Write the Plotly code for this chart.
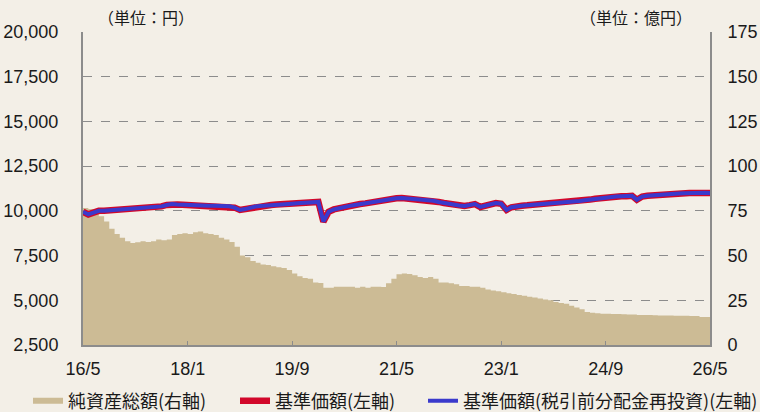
import pandas as pd
import plotly.graph_objects as go

# Monthly dates 2016/5 .. 2026/5
dates = pd.date_range("2016-05-01", periods=121, freq="MS")

# Net assets (億円, right axis)
net_assets = [
    76.6, 76, 74, 72, 69, 65, 62, 60, 58, 57,
    57.5, 58, 57.6, 58, 59, 58.5, 59, 61.5, 62, 62.5,
    62, 63, 63.5, 62.5, 62, 61.5, 60, 59, 57.6, 55,
    50, 49, 47, 46, 45, 44.7, 44, 43.5, 43, 42,
    40, 38.5, 37.5, 37, 35, 34.7, 32, 32, 32.5, 32.5,
    32.5, 32.5, 32, 32.5, 32, 32.5, 32.5, 32.4, 34.5, 37,
    39.5, 40, 39.7, 39, 38, 37.5, 38, 37, 35, 35,
    34.5, 34, 33, 33, 32.5, 32.5, 32, 31, 30.5, 30,
    29.5, 29, 28.5, 28, 27.5, 27, 26.5, 26, 25.5, 25,
    24, 23.5, 23, 22, 21, 20, 18.5, 18, 17.8, 17.5,
    17.5, 17.3, 17.3, 17.2, 17, 17, 16.8, 16.8, 16.8, 16.7,
    16.5, 16.5, 16.5, 16.4, 16.3, 16.3, 16.2, 16.2, 15.6, 15.6,
    15.6,
]

# NAV (円, left axis)
nav = [
    9950, 9800, 9900, 10000, 10000, 10020, 10050, 10060, 10080, 10100,
    10120, 10130, 10150, 10170, 10200, 10250, 10330, 10380, 10360, 10340,
    10330, 10320, 10300, 10300, 10290, 10280, 10270, 10270, 10260, 10180,
    10050, 10100, 10200, 10250, 10270, 10300, 10330, 10350, 10370, 10380,
    10400, 10420, 10430, 10440, 10480, 10500, 9400, 9950, 10080, 10160,
    10220, 10280, 10330, 10380, 10420, 10480, 10530, 10560, 10620, 10680,
    10700, 10720, 10700, 10680, 10660, 10640, 10600, 10560, 10500, 10440,
    10400, 10330, 10300, 10270, 10320, 10380, 10220, 10300, 10380, 10440,
    10400, 10050, 10200, 10270, 10290, 10310, 10330, 10350, 10370, 10380,
    10410, 10440, 10470, 10500, 10530, 10550, 10590, 10630, 10680, 10720,
    10760, 10780, 10800, 10810, 10820, 10840, 10620, 10800, 10840, 10870,
    10890, 10910, 10930, 10950, 10970, 10980, 11000, 11000, 10990, 11010,
    11000,
]

# NAV with dividends reinvested (円, left axis)
nav_reinvested = list(nav)

tick_dates = ["2016-05-01", "2018-01-01", "2019-09-01", "2021-05-01",
              "2023-01-01", "2024-09-01", "2026-05-01"]
tick_labels = ["16/5", "18/1", "19/9", "21/5", "23/1", "24/9", "26/5"]

BG = "#F3EFE7"
AREA = "#CCBB95"
RED = "#D2072A"
BLUE = "#3A3ACC"
AXIS = "#8C8C8C"
TXT = "#1A1A1A"

W, H = 760, 412
L, R, T, B = 83, 50, 32, 67
pw = W - L - R
ph = H - T - B

fig = go.Figure()
# area on primary y (right side, 億円) so it is drawn beneath the price lines
fig.add_trace(go.Scatter(
    x=dates, y=net_assets, name="純資産総額(右軸)", yaxis="y", legend="legend",
    mode="none", fill="tozeroy", fillcolor=AREA, line=dict(shape="hv", width=0),
))
fig.add_trace(go.Scatter(
    x=dates, y=nav, name="基準価額(左軸)", yaxis="y2", legend="legend2",
    mode="lines", line=dict(color=RED, width=6.5),
))
fig.add_trace(go.Scatter(
    x=dates, y=nav_reinvested, name="基準価額(税引前分配金再投資)(左軸)",
    yaxis="y2", legend="legend3",
    mode="lines", line=dict(color=BLUE, width=4),
))

tickfont = dict(family="Liberation Sans, Arial, sans-serif", size=18, color=TXT)
cjk = dict(family="Noto Sans CJK JP", size=16, color=TXT)
legfont = dict(family="Noto Sans CJK JP", size=18, color=TXT)

def leg(text_x):
    return dict(orientation="h", x=(text_x - 40) / W, xanchor="left", xref="container",
                y=(H - 401) / H, yanchor="middle", yref="container",
                font=legfont, bgcolor="rgba(0,0,0,0)", itemwidth=30)

fig.update_layout(
    width=W, height=H,
    margin=dict(l=L, r=R, t=T, b=B, autoexpand=False),
    paper_bgcolor=BG, plot_bgcolor=BG,
    showlegend=True,
    legend=leg(68), legend2=leg(275), legend3=leg(463),
    xaxis=dict(
        type="date", range=["2016-05-01", "2026-05-01"],
        tickvals=tick_dates, ticktext=tick_labels,
        showgrid=False, showline=True, linecolor=AXIS, linewidth=2,
        ticks="inside", ticklen=4, tickcolor=AXIS, tickwidth=1,
        tickfont=tickfont, zeroline=False, ticklabelstandoff=6, automargin=False,
    ),
    yaxis=dict(
        range=[0, 175], tickvals=[0, 25, 50, 75, 100, 125, 150, 175],
        side="right", showgrid=True, gridcolor=AXIS, griddash="dash", gridwidth=1.3,
        showline=True, linecolor=AXIS, linewidth=2, ticks="",
        tickfont=tickfont, zeroline=False, ticklabelstandoff=12, automargin=False,
    ),
    yaxis2=dict(
        range=[2500, 20000], tickvals=[2500, 5000, 7500, 10000, 12500, 15000, 17500, 20000],
        tickformat=",d", overlaying="y", side="left", showgrid=False,
        showline=True, linecolor=AXIS, linewidth=2, ticks="",
        tickfont=tickfont, zeroline=False, ticklabelstandoff=19, automargin=False,
    ),
    annotations=[
        dict(text="（単位：円）", x=(146 - L) / pw, y=(H - B - 17) / ph,
             xref="paper", yref="paper", xanchor="center", yanchor="middle",
             showarrow=False, font=cjk),
        dict(text="（単位：億円）", x=(636 - L) / pw, y=(H - B - 17) / ph,
             xref="paper", yref="paper", xanchor="center", yanchor="middle",
             showarrow=False, font=cjk),
    ],
)

fig.write_html(
    "out.html",
    config={"displayModeBar": False},
    post_script="document.body.style.margin='0';document.body.style.overflow='hidden';",
)
